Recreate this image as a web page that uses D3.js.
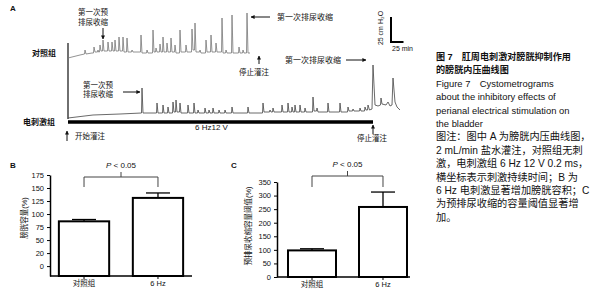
<!DOCTYPE html>
<html>
<head>
<meta charset="utf-8">
<script src="https://cdn.jsdelivr.net/npm/d3@7"></script>
<style>
  body { margin: 0; background: #fff; }
  text { font-family: "Liberation Sans", Arial, "Noto Sans CJK SC", sans-serif; fill: #111; }
</style>
</head>
<body>
<div id="fig"></div>
<script>
// cystometrogram traces, [minutes, cmH2O above start]
const ctrlTrace = [
  [0, 2], [24, 5], [33, 6], [34, 10], [36, 6], [48, 7], [51, 7], [52, 13], [54, 8], [59, 8], [60, 10], [61, 8],
  [63, 8], [64, 15], [66, 9], [69, 9], [70, 20], [72, 9], [79, 9], [80, 18], [82, 9], [87, 9], [88, 18], [90, 9],
  [93, 9], [94, 20], [96, 9], [101, 9], [102, 23], [104, 9], [109, 9], [110, 23], [112, 8], [117, 8], [118, 22],
  [120, 8], [127, 8], [128, 10], [130, 8], [145, 8], [146, 25], [148, 7], [157, 7], [158, 10], [160, 7],
  [169, 7], [170, 30], [172, 8], [175, 8], [176, 12], [178, 8], [183, 8], [184, 16], [186, 8], [189, 8],
  [190, 23], [192, 8], [197, 8], [198, 17], [200, 8], [205, 8], [206, 22], [208, 8], [213, 8], [214, 15],
  [216, 7], [223, 7], [224, 30], [226, 8], [235, 8], [236, 15], [238, 8], [247, 8], [248, 31], [250, 10],
  [253, 10], [254, 37], [256, 8], [263, 8], [264, 10], [266, 7], [275, 7], [276, 20], [278, 8], [285, 8],
  [286, 25], [288, 8], [295, 8], [296, 17], [298, 8], [307, 8], [308, 42], [310, 7], [315, 7], [316, 10],
  [318, 7], [327, 7], [328, 45], [330, 7], [341, 7], [342, 13], [344, 7], [349, 7], [350, 10], [352, 7],
  [357, 7], [358, 47], [360, 7], [364, 7]
];
const stimTrace = [
  [0, 1], [50, 4], [104, 5], [147, 6], [148, 31], [150, 6], [177, 6], [178, 16], [180, 6], [189, 6], [190, 14],
  [192, 6], [199, 6], [200, 12], [202, 6], [209, 6], [210, 17], [212, 7], [215, 7], [216, 19], [218, 7],
  [223, 7], [224, 16], [226, 6], [239, 6], [240, 14], [242, 6], [251, 6], [252, 16], [254, 6], [259, 6],
  [260, 9], [262, 6], [273, 6], [274, 11], [276, 6], [281, 6], [282, 9], [284, 6], [289, 6], [290, 11],
  [292, 6], [301, 6], [302, 9], [304, 6], [313, 6], [314, 9], [316, 6], [327, 6], [328, 12], [330, 6],
  [359, 6], [360, 12], [362, 6], [389, 6], [390, 16], [392, 7], [403, 7], [404, 9], [406, 7], [409, 7],
  [410, 11], [412, 7], [427, 7], [428, 14], [430, 7], [439, 7], [440, 16], [442, 7], [447, 7], [448, 12],
  [450, 7], [453, 7], [454, 14], [456, 7], [463, 7], [464, 14], [466, 7], [473, 7], [474, 11], [476, 7],
  [489, 7], [490, 22], [492, 8], [497, 8], [498, 11], [500, 7], [519, 7], [520, 16], [522, 7], [543, 7],
  [544, 16], [546, 7], [559, 7], [560, 12], [562, 8], [569, 8], [570, 10], [572, 8], [583, 8], [584, 11],
  [586, 8], [593, 8], [594, 12], [596, 9], [599, 9], [600, 14], [603, 9], [608, 10], [610, 54], [614, 14],
  [620, 13], [625, 14], [626, 21], [628, 15], [636, 14], [640, 17], [644, 13], [648, 14], [650, 41],
  [654, 17], [658, 12], [664, 9]
];
const stimPeriod = [0, 610];
const scaleBar = { min: 25, cm: 25 };

const groups = ['对照组', '6 Hz'];
const capacity = [86, 131];
const capacityErr = [3.5, 9.5];
const capTicks = [0, 25, 50, 75, 100, 125, 150, 175];
const capTickLabels = ['0', '20', '50', '75', '100', '125', '150', '175'];
const threshold = [98, 258];
const thresholdErr = [6, 55];
const thrTicks = [0, 50, 100, 150, 200, 250, 300, 350];

const captionLines = [
  '图 7\u3000肛周电刺激对膀胱抑制作用',
  '的膀胱内压曲线图',
  'Figure 7\u3000Cystometrograms',
  'about the inhibitory effects of',
  'perianal electrical stimulation on',
  'the bladder',
  '图注：图中 A 为膀胱内压曲线图，',
  '2 mL/min 盐水灌注，对照组无刺',
  '激，电刺激组 6 Hz 12 V 0.2 ms，',
  '横坐标表示刺激持续时间；B 为',
  '6 Hz 电刺激显著增加膀胱容积；C',
  '为预排尿收缩的容量阈值显著增',
  '加。'
];

const svg = d3.select('#fig').append('svg')
  .attr('width', 597)
  .attr('height', 300);

svg.append('defs').append('marker')
  .attr('id', 'ah')
  .attr('viewBox', '0 0 10 10')
  .attr('refX', 9).attr('refY', 5)
  .attr('markerWidth', 4).attr('markerHeight', 4)
  .attr('orient', 'auto')
  .append('path').attr('d', 'M0,0L10,5L0,10z').attr('fill', '#111');

function label(x, y, str, size, opts = {}) {
  return svg.append('text')
    .attr('x', x).attr('y', y)
    .attr('font-size', size)
    .attr('font-weight', opts.bold ? 'bold' : null)
    .attr('text-anchor', opts.anchor || 'start')
    .text(str);
}

function arrow(x1, y1, x2, y2) {
  svg.append('line')
    .attr('x1', x1).attr('y1', y1).attr('x2', x2).attr('y2', y2)
    .attr('stroke', '#111').attr('stroke-width', 1)
    .attr('marker-end', 'url(#ah)');
}

// ---- panel A
let xT = d3.scaleLinear().domain([0, 664]).range([68, 400]);
let yCtrl = d3.scaleLinear().domain([0, 50]).range([60, 10]);
let yStim = d3.scaleLinear().domain([0, 60]).range([119, 59]);

svg.append('line')
  .attr('x1', xT(0)).attr('x2', xT(0))
  .attr('y1', 43).attr('y2', yStim(0))
  .attr('stroke', '#222').attr('stroke-width', 1.3);

svg.append('path')
  .datum(ctrlTrace)
  .attr('fill', 'none')
  .attr('stroke', '#777')
  .attr('stroke-width', 0.8)
  .attr('d', d3.line().x((d) => xT(d[0])).y((d) => yCtrl(d[1])));

svg.append('path')
  .datum(stimTrace)
  .attr('fill', 'none')
  .attr('stroke', '#444')
  .attr('stroke-width', 0.8)
  .attr('d', d3.line().x((d) => xT(d[0])).y((d) => yStim(d[1])));

// stimulation bar
svg.append('line')
  .attr('x1', xT(stimPeriod[0])).attr('x2', xT(stimPeriod[1]))
  .attr('y1', 122).attr('y2', 122)
  .attr('stroke', '#000').attr('stroke-width', 3.5);

// scale bar
let sb = { x: 391, y: 42 };
svg.append('path')
  .attr('d', 'M' + sb.x + ',' + (sb.y - (yCtrl(0) - yCtrl(scaleBar.cm))) + 'V' + sb.y + 'H' + (sb.x + xT(scaleBar.min) - xT(0)))
  .attr('fill', 'none').attr('stroke', '#000').attr('stroke-width', 2);
svg.append('text')
  .attr('transform', 'translate(383,28) rotate(-90)')
  .attr('text-anchor', 'middle')
  .attr('font-size', 7)
  .text('25 cm H\u2082O');
label(392, 51, scaleBar.min + ' min', 7);

label(10, 11, 'A', 8, { bold: true });
label(32, 56, '对照组', 8, { bold: true });
label(23, 125, '电刺激组', 8, { bold: true });

label(93, 15, '第一次预', 7.5, { anchor: 'middle' });
label(93, 25, '排尿收缩', 7.5, { anchor: 'middle' });
arrow(103, 28, 103, 39);

label(277, 20, '第一次排尿收缩', 8);
arrow(270, 17, 251, 17);

label(239, 75, '停止灌注', 7.5);
arrow(259, 64, 259, 56);

label(98, 88, '第一次预', 7.5, { anchor: 'middle' });
label(98, 97, '排尿收缩', 7.5, { anchor: 'middle' });
arrow(123, 92, 140, 92);

label(285, 63, '第一次排尿收缩', 8);
arrow(346, 60, 366, 60);

label(75, 139, '开始灌注', 7.5);
arrow(67, 141, 67, 131);
label(195, 130, '6 Hz12 V', 8);
label(357, 141, '停止灌注', 7.5);
arrow(373, 134, 373, 125);

// ---- bar panels
function barPanel(cfg) {
  let x = d3.scaleBand().domain(groups).range(cfg.xRange)
    .paddingInner(cfg.padIn).paddingOuter(cfg.padOut);
  let y = d3.scaleLinear().domain(cfg.yDomain).range(cfg.yRange);
  let base = cfg.yRange[0];
  let g = svg.append('g');

  g.selectAll('rect.bar')
    .data(cfg.values)
    .join('rect')
    .attr('x', (d, i) => x(groups[i]))
    .attr('width', x.bandwidth())
    .attr('y', (d) => y(d))
    .attr('height', (d) => base - y(d))
    .attr('fill', '#fff')
    .attr('stroke', '#000')
    .attr('stroke-width', 2);

  // error bars (upper only)
  cfg.values.forEach((v, i) => {
    let cx = x(groups[i]) + x.bandwidth() / 2;
    let top = y(v + cfg.errs[i]);
    g.append('line').attr('x1', cx).attr('x2', cx).attr('y1', y(v)).attr('y2', top)
      .attr('stroke', '#000').attr('stroke-width', 1.3);
    g.append('line').attr('x1', cx - cfg.capW / 2).attr('x2', cx + cfg.capW / 2)
      .attr('y1', top).attr('y2', top)
      .attr('stroke', '#000').attr('stroke-width', 1.3);
  });

  let yAxis = d3.axisLeft(y).tickValues(cfg.ticks).tickSize(3).tickSizeOuter(0);
  if (cfg.tickLabels) yAxis.tickFormat((d, i) => cfg.tickLabels[i]);
  let ga = g.append('g')
    .attr('transform', 'translate(' + cfg.xRange[0] + ',0)')
    .call(yAxis);
  ga.select('.domain').attr('stroke-width', 1.5);
  ga.selectAll('text').attr('font-size', 7.5).attr('fill', '#111')
    .style('font-family', '"Liberation Sans", Arial, sans-serif');

  let xAxis = d3.axisBottom(x).tickSize(3).tickSizeOuter(0).tickPadding(2);
  let gx = g.append('g')
    .attr('transform', 'translate(0,' + base + ')')
    .call(xAxis);
  gx.select('.domain').attr('stroke-width', 1.5).attr('d', 'M' + cfg.xRange[0] + ',0H' + cfg.xEnd);
  gx.selectAll('text').attr('font-size', 7.5).attr('fill', '#111')
    .style('font-family', '"Liberation Sans", Arial, "Noto Sans CJK SC", sans-serif');

  // significance bracket
  let c0 = x(groups[0]) + x.bandwidth() / 2;
  let c1 = x(groups[1]) + x.bandwidth() / 2;
  let mid = (c0 + c1) / 2;
  g.append('path')
    .attr('d', 'M' + c0 + ',' + cfg.brLow + 'V' + cfg.brTop + 'H' + c1 + 'V' + cfg.brLow +
      'M' + mid + ',' + cfg.brTop + 'V' + (cfg.brTop - 5))
    .attr('fill', 'none').attr('stroke', '#444').attr('stroke-width', 1);
  let pt = g.append('text')
    .attr('x', mid).attr('y', cfg.brTop - 9)
    .attr('text-anchor', 'middle')
    .attr('font-size', 8);
  pt.append('tspan').attr('font-style', 'italic').text('P');
  pt.append('tspan').text(' < 0.05');

  g.append('text')
    .attr('transform', 'translate(' + cfg.titleX + ',' + cfg.titleY + ') rotate(-90)')
    .attr('text-anchor', 'middle')
    .attr('font-size', 7.5)
    .text(cfg.title);
}

barPanel({
  values: capacity, errs: capacityErr,
  xRange: [50, 192], xEnd: 192, padIn: 0.32, padOut: 0.12,
  yDomain: [-19, 175], yRange: [276, 175],
  ticks: capTicks, tickLabels: capTickLabels, capW: 24,
  brTop: 177, brLow: 187,
  title: '膀胱容量(%)', titleX: 27, titleY: 218
});
label(10, 168, 'B', 8, { bold: true });

barPanel({
  values: threshold, errs: thresholdErr,
  xRange: [277, 418], xEnd: 410, padIn: 0.324, padOut: 0.155,
  yDomain: [0, 350], yRange: [277, 182],
  ticks: thrTicks, capW: 24,
  brTop: 176, brLow: 187,
  title: '预排尿收缩容量阈值(%)', titleX: 251, titleY: 226
});
label(231, 168, 'C', 8, { bold: true });

// ---- caption
svg.selectAll('text.cap')
  .data(captionLines)
  .join('text')
  .attr('class', 'cap')
  .attr('x', 436)
  .attr('y', (d, i) => 60 + i * 13.4)
  .attr('font-size', (d, i) => (i < 2 ? 9.1 : i < 6 ? 9.4 : 10.2))
  .attr('font-weight', (d, i) => (i < 2 ? 'bold' : null))
  .text((d) => d);
</script>
</body>
</html>
